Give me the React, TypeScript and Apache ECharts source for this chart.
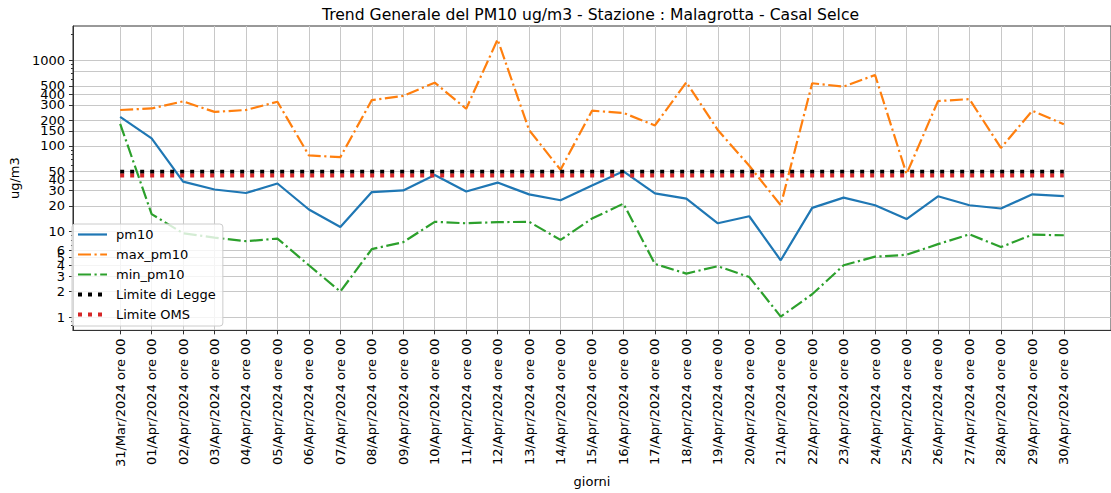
import React, { useEffect, useRef } from "react";
import * as echarts from "echarts";

const dayLabels = [
  "31/Mar/2024 ore 00", "01/Apr/2024 ore 00", "02/Apr/2024 ore 00", "03/Apr/2024 ore 00",
  "04/Apr/2024 ore 00", "05/Apr/2024 ore 00", "06/Apr/2024 ore 00", "07/Apr/2024 ore 00",
  "08/Apr/2024 ore 00", "09/Apr/2024 ore 00", "10/Apr/2024 ore 00", "11/Apr/2024 ore 00",
  "12/Apr/2024 ore 00", "13/Apr/2024 ore 00", "14/Apr/2024 ore 00", "15/Apr/2024 ore 00",
  "16/Apr/2024 ore 00", "17/Apr/2024 ore 00", "18/Apr/2024 ore 00", "19/Apr/2024 ore 00",
  "20/Apr/2024 ore 00", "21/Apr/2024 ore 00", "22/Apr/2024 ore 00", "23/Apr/2024 ore 00",
  "24/Apr/2024 ore 00", "25/Apr/2024 ore 00", "26/Apr/2024 ore 00", "27/Apr/2024 ore 00",
  "28/Apr/2024 ore 00", "29/Apr/2024 ore 00", "30/Apr/2024 ore 00",
];

const pm10 = [
  218, 122, 38.3, 31, 28.2, 36.4, 18.1, 11.3, 28.9, 30.2, 45.8, 29.4, 37.3, 27.2, 23.2, 34.5,
  50.5, 27.9, 24.2, 12.5, 15.1, 4.63, 18.9, 24.9, 20.3, 14.0, 25.8, 20.3, 18.6, 27.2, 26.0,
];
const maxPm10 = [
  262, 273, 330, 249, 262, 327, 77.3, 73.9, 342, 383, 546, 271, 1742, 153, 52.7, 257,
  242, 173, 552, 153, 58.6, 20.3, 537, 491, 670, 47, 333, 351, 94.6, 257, 179,
];
const minPm10 = [
  181, 16.0, 9.56, 8.5, 7.73, 8.3, 4.05, 2.0, 6.25, 7.53, 13.0, 12.5, 12.9, 13.0, 8.0, 14.2,
  21.2, 4.2, 3.24, 3.95, 2.95, 1.02, 1.86, 4.05, 5.1, 5.37, 7.14, 9.3, 6.6, 9.2, 9.07,
];
const limiteLegge = 50;
const limiteOms = 45;

const yMajorTicks = [1, 2, 3, 4, 5, 6, 10, 20, 30, 40, 50, 100, 150, 200, 300, 400, 500, 750, 1000];
const yMinorTicks = [0.8, 0.9, 7, 8, 9, 60, 70, 80, 90, 600, 700, 800, 900, 2000];

const FONT = "DejaVu Sans";

export default function App() {
  const ref = useRef<HTMLDivElement>(null);

  useEffect(() => {
    if (!ref.current) return;
    const chart = echarts.init(ref.current, undefined, { renderer: "svg" });
    const idx = dayLabels.map((_, i) => i);
    const toPairs = (arr: number[]) => arr.map((v, i) => [i, v]);
    const lastIdx = dayLabels.length - 1;
    const yMin = 0.705;
    const yMax = 2500;

    chart.setOption({
      animation: false,
      textStyle: { fontFamily: FONT },
      graphic: [
        {
          type: "text",
          x: 590.5,
          y: 14.5,
          style: {
            text: "Trend Generale del PM10 ug/m3 - Stazione : Malagrotta - Casal Selce",
            font: `15.6px '${FONT}'`,
            fill: "#000",
            textAlign: "center",
            textVerticalAlign: "middle",
          },
        },
      ],
      grid: {
        left: 66,
        top: 26,
        width: 1049,
        height: 307,
        show: true,
        borderColor: "#333",
        borderWidth: 1,
        backgroundColor: "transparent",
      },
      legend: {
        orient: "vertical",
        left: 72,
        top: 224,
        padding: [4, 7, 5, 4],
        itemGap: 7,
        itemWidth: 29,
        itemHeight: 14,
        backgroundColor: "rgba(255,255,255,0.8)",
        borderColor: "#cccccc",
        borderWidth: 1,
        borderRadius: 3,
        itemStyle: { opacity: 0 },
        lineStyle: { width: "inherit", type: "inherit" },
        textStyle: { fontFamily: FONT, fontSize: 13, color: "#000", padding: [0, 0, 0, 4] },
        data: ["pm10", "max_pm10", "min_pm10", "Limite di Legge", "Limite OMS"],
      },
      xAxis: {
        type: "value",
        min: -1.5,
        max: 31.5,
        name: "giorni",
        nameLocation: "middle",
        nameGap: 140,
        nameTextStyle: { fontFamily: FONT, fontSize: 13, color: "#000" },
        axisLine: { show: true, onZero: false, lineStyle: { color: "#333", width: 1 } },
        axisTick: { show: true, length: 4, customValues: idx, lineStyle: { color: "#333" } },
        axisLabel: {
          customValues: idx,
          rotate: 90,
          margin: 8,
          fontFamily: FONT,
          fontSize: 13,
          color: "#000",
          formatter: (v: number) => dayLabels[Math.round(v)] ?? "",
        },
        splitLine: { show: true, lineStyle: { color: "#c8c8c8", width: 1 } },
      },
      yAxis: [
        {
          type: "log",
          min: yMin,
          max: yMax,
          name: "ug/m3",
          nameLocation: "middle",
          nameGap: 42,
          nameTextStyle: { fontFamily: FONT, fontSize: 13, color: "#000" },
          axisLine: { show: true, onZero: false, lineStyle: { color: "#333", width: 1 } },
          axisTick: { show: true, length: 4, customValues: yMajorTicks, lineStyle: { color: "#333" } },
          axisLabel: {
            customValues: yMajorTicks,
            margin: 8,
            fontFamily: FONT,
            fontSize: 13,
            color: "#000",
            hideOverlap: false,
            showMinLabel: true,
            showMaxLabel: true,
            formatter: (v: number) => String(v),
          },
          splitLine: { show: true, lineStyle: { color: "#c8c8c8", width: 1 } },
        },
        {
          type: "log",
          min: yMin,
          max: yMax,
          position: "left",
          axisLine: { show: false, onZero: false },
          axisTick: { show: true, length: 2, customValues: yMinorTicks, lineStyle: { color: "#333" } },
          axisLabel: { show: false },
          splitLine: { show: false },
        },
      ],
      series: [
        {
          name: "pm10",
          type: "line",
          data: toPairs(pm10),
          symbol: "none",
          lineStyle: { color: "#1f77b4", width: 2.2 },
          itemStyle: { color: "#1f77b4" },
        },
        {
          name: "max_pm10",
          type: "line",
          data: toPairs(maxPm10),
          symbol: "none",
          lineStyle: { color: "#ff7f0e", width: 2.2, type: [13, 3.5, 2.2, 3.5] },
          itemStyle: { color: "#ff7f0e" },
        },
        {
          name: "min_pm10",
          type: "line",
          data: toPairs(minPm10),
          symbol: "none",
          lineStyle: { color: "#2ca02c", width: 2.2, type: [13, 3.5, 2.2, 3.5] },
          itemStyle: { color: "#2ca02c" },
        },
        {
          name: "Limite di Legge",
          type: "line",
          data: [[0, limiteLegge], [lastIdx, limiteLegge]],
          symbol: "none",
          lineStyle: { color: "#000000", width: 4, type: [4, 6] },
          itemStyle: { color: "#000000" },
        },
        {
          name: "Limite OMS",
          type: "line",
          data: [[0, limiteOms], [lastIdx, limiteOms]],
          symbol: "none",
          lineStyle: { color: "#d62728", width: 4, type: [4, 6] },
          itemStyle: { color: "#d62728" },
        },
      ],
    });

    return () => chart.dispose();
  }, []);

  return (
    <div
      ref={ref}
      style={{ position: "absolute", left: 0, top: 0, width: 1111, height: 493, background: "#fff" }}
    />
  );
}
